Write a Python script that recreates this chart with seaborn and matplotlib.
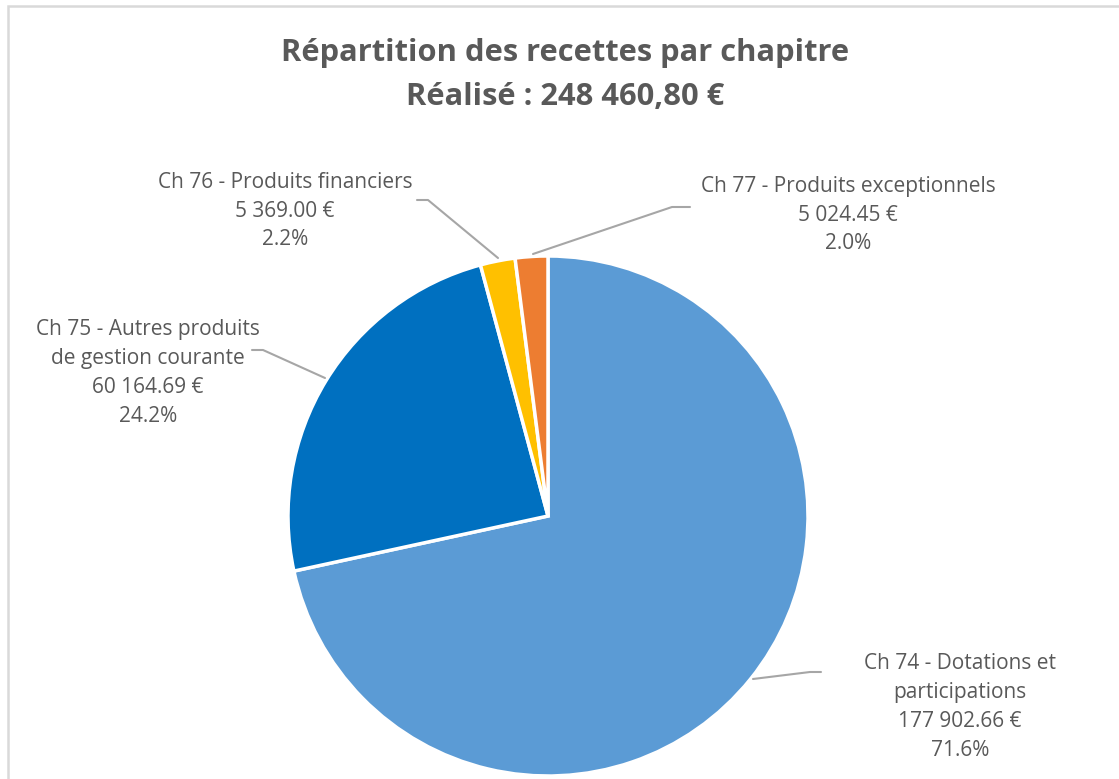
import matplotlib
matplotlib.use("Agg")
import matplotlib.pyplot as plt
import matplotlib.patches as mpatches
import seaborn as sns

# données du graphique
chapitres = ["Ch 74 - Dotations et\nparticipations",
             "Ch 75 - Autres produits\nde gestion courante",
             "Ch 76 - Produits financiers",
             "Ch 77 - Produits exceptionnels"]
montants = [177902.66, 60164.69, 5369.00, 5024.45]
couleurs = ["#5B9BD5", "#0070C0", "#FFC000", "#ED7D31"]
titre = "Répartition des recettes par chapitre\nRéalisé : 248 460,80 €"

sns.set_theme(style="white")
plt.rcParams['font.family'] = ['Open Sans', 'DejaVu Sans']
texte_gris = "#595959"

W, H = 1119, 779
fig = plt.figure(figsize=(W / 100, H / 100), dpi=100)
ax = fig.add_axes([0, 0, 1, 1])

# cadre gris clair
cadre = mpatches.Rectangle((8, -50), W + 50, H - 6 + 50, fill=False,
                           edgecolor="#D9D9D9", lw=1.8, clip_on=False)
ax.add_patch(cadre)

# camembert (coordonnées en pixels, y vers le haut)
cx, cy, r = 548, H - 516, 260
wedges, _ = ax.pie(montants, colors=sns.color_palette(couleurs), startangle=90,
                   counterclock=False, center=(cx, cy), radius=r,
                   wedgeprops=dict(edgecolor="white", linewidth=2.5))
ax.set_xlim(0, W)
ax.set_ylim(0, H)
ax.set_aspect('equal')
ax.axis('off')

total = sum(montants)

def fmt(v):
    return f"{v:,.2f}".replace(",", " ") + " €"

# positions des étiquettes et lignes de rappel (pixels)
etiquettes = [
    dict(xy=(960, 707), pts=[(753, 679), (810, 672), (821, 672)]),
    dict(xy=(148, 373), pts=[(325, 378), (263, 350), (252, 350)]),
    dict(xy=(285, 211), pts=[(498, 258), (428, 200), (417, 200)]),
    dict(xy=(848, 215), pts=[(533, 254), (672, 207), (690, 207)]),
]

for nom, v, e in zip(chapitres, montants, etiquettes):
    txt = f"{nom}\n{fmt(v)}\n{100 * v / total:.1f}%"
    ax.text(e['xy'][0], H - e['xy'][1], txt, ha='center', va='center',
            fontsize=15, color=texte_gris, linespacing=1.48)
    xs = [p[0] for p in e['pts']]
    ys = [H - p[1] for p in e['pts']]
    ax.plot(xs, ys, color="#A6A6A6", lw=1.5)

ax.text(565, H - 75, titre, ha='center', va='center', fontsize=22.2,
        fontweight='bold', color=texte_gris, linespacing=1.62)

plt.savefig("out.png", dpi=100)
